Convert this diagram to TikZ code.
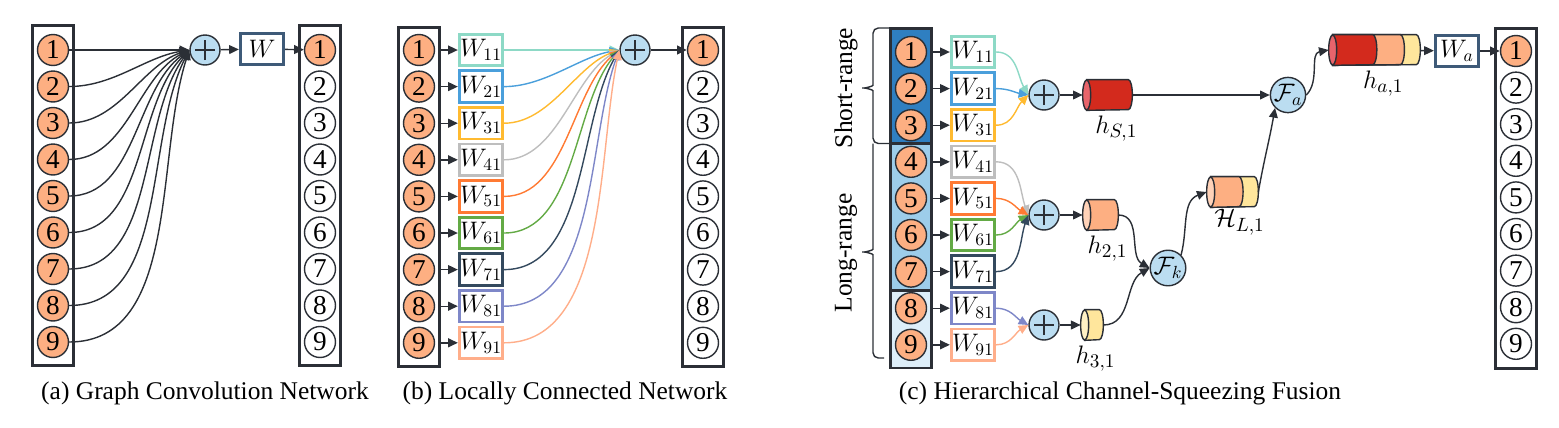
\documentclass[tikz,border=0pt]{standalone}
\usepackage{fontspec}
\setmainfont{Liberation Serif}
\usetikzlibrary{arrows.meta,positioning,calc}
\definecolor{inkdark}{HTML}{2B2F36}
\definecolor{nodeorange}{HTML}{FDAF82}
\definecolor{sumblue}{HTML}{BBDDF1}
\definecolor{wslate}{HTML}{3E5A78}
\definecolor{wteal}{HTML}{8DD9C6}
\definecolor{wblue}{HTML}{4A9FDB}
\definecolor{wamber}{HTML}{FFBA30}
\definecolor{wgray}{HTML}{BEBEBE}
\definecolor{wtangerine}{HTML}{FF7A33}
\definecolor{wgreen}{HTML}{63AA45}
\definecolor{wnavy}{HTML}{34495E}
\definecolor{wlavender}{HTML}{7E87C8}
\definecolor{wpeach}{HTML}{FFAE8A}
\definecolor{shortblue}{HTML}{2F7FC1}
\definecolor{longblue}{HTML}{9DCDEA}
\definecolor{paleblue}{HTML}{DDEEF9}
\definecolor{cylred}{HTML}{D32A1D}
\definecolor{cylredface}{HTML}{E8646B}
\definecolor{cylorange}{HTML}{FDAF82}
\definecolor{cylorangeface}{HTML}{FFD2B8}
\definecolor{cylyellow}{HTML}{FFE69C}
\definecolor{cylyellowface}{HTML}{FFF1C4}
\tikzset{
  column/.style={
    draw=inkdark,
    line width=1.7pt,
    minimum width=0.82cm,
    inner sep=0pt
  },
  unit/.style={
    circle,
    draw=inkdark,
    line width=0.8pt,
    fill=white,
    minimum size=0.62cm,
    inner sep=0pt,
    font=\fontsize{15.5}{16}\selectfont
  },
  hot/.style={unit,fill=nodeorange},
  sumnode/.style={
    circle,
    draw=inkdark,
    line width=0.8pt,
    fill=sumblue,
    minimum size=0.6cm,
    path picture={
      \draw[inkdark,line width=0.8pt]
        ([xshift=-0.2cm]path picture bounding box.center) -- ([xshift=0.2cm]path picture bounding box.center)
        ([yshift=-0.2cm]path picture bounding box.center) -- ([yshift=0.2cm]path picture bounding box.center);
    }
  },
  fusenode/.style={
    circle,
    draw=inkdark,
    line width=0.8pt,
    fill=sumblue,
    minimum size=0.56cm,
    inner sep=0pt,
    font=\fontsize{14}{14}\selectfont
  },
  wbox/.style={
    draw=#1,
    line width=1.6pt,
    fill=white,
    minimum width=0.87cm,
    minimum height=0.63cm,
    inner sep=0pt,
    font=\fontsize{14.5}{15}\selectfont
  },
  wbox/.default=wslate,
  link/.style={-{Triangle[length=5.5pt,width=5pt]},line width=0.8pt,draw=inkdark},
  cylbox/.style={minimum height=0.6cm,inner sep=0pt},
  cylline/.style={draw=inkdark,line width=0.8pt},
  bracket/.style={draw=inkdark,line width=0.8pt,rounded corners=3pt},
  caption/.style={font=\fontsize{14.5}{17}\selectfont},
  hlabel/.style={font=\fontsize{15.5}{16}\selectfont,inner sep=1pt}
}
% one coloured stretch of a cylinder, from its face to a fraction of its length
\newcommand{\cylseg}[3]{%
  \coordinate (segL) at ($(#1.north west)+(0.08cm,0)$);
  \coordinate (segR) at ($(#1.north east)+(-0.08cm,0)$);
  \filldraw[cylline,fill=#3] (segL) -- ($(segL)!#2!(segR)$)
    arc[start angle=90,end angle=-90,x radius=0.08cm,y radius=0.3cm]
    -- ($(#1.south west)+(0.08cm,0)$) -- cycle;}
\newcommand{\cylface}[2]{%
  \filldraw[cylline,fill=#2] ($(#1.west)+(0.08cm,0)$) ellipse[x radius=0.08cm,y radius=0.3cm];}

\begin{document}
\begin{tikzpicture}[x=0.02cm,y=0.02cm]
\useasboundingbox (0,0) rectangle (1559,-427);

% (a) graph convolution
\node[column,minimum height=6.82cm] (colA) at (53,-195.5) {};
\foreach \i in {1,...,9}
  \node[hot] (a\i) at (53,{-50-36.5*(\i-1)}) {\i};
\node[sumnode] (sumA) at (205,-50) {};
\node[wbox] (wA) at (262,-49) {$W$};
\node[column,minimum height=6.82cm] (outA) at (320,-195.5) {};
\node[hot] (ao1) at (320,-50) {1};
\foreach \i in {2,...,9}
  \node[unit] (ao\i) at (320,{-50-36.5*(\i-1)}) {\i};
\draw[link] (a1) -- (sumA);
\foreach \i [evaluate=\i as \ang using 180+9*(\i-1)] in {2,...,9}
  \draw[link] (a\i.east) to[out=0,in=\ang,looseness=0.9] (sumA.west);
\draw[link] (sumA) -- (wA);
\draw[link] (wA) -- (ao1);

% (b) locally connected
\node[column,minimum height=6.8cm] (colB) at (419,-197) {};
\node[sumnode] (sumB) at (635,-50) {};
\node[column,minimum height=6.8cm] (outB) at (703,-197) {};
\node[hot] (bo1) at (703,-50) {1};
\foreach \i in {2,...,9}
  \node[unit] (bo\i) at (703,{-50-36.6*(\i-1)}) {\i};
\foreach \i/\c/\ang in {1/wteal/180,2/wblue/190,3/wamber/200,4/wgray/210,5/wtangerine/220,
                        6/wgreen/230,7/wnavy/240,8/wlavender/250,9/wpeach/258}{
  \node[hot] (b\i) at (419,{-50-36.6*(\i-1)}) {\i};
  \node[wbox=\c] (bw\i) at (481,{-50-36.6*(\i-1)}) {$W_{\i1}$};
  \draw[link] (b\i.east -| colB.east) -- (bw\i);
  \draw[link,draw=\c] (bw\i.east) to[out=0,in=\ang,looseness=0.85] (sumB.west);
}
\draw[link] (sumB) -- (bo1);

% (c) hierarchical channel-squeezing fusion
\node[column,fill=shortblue,minimum height=2.31cm] (secS) at (911,-85.75) {};
\node[column,fill=longblue,minimum height=2.93cm] (secL) at (911,-216.75) {};
\node[column,fill=paleblue,minimum height=1.56cm] (secP) at (911,-329) {};
\node[sumnode] (sumS) at (1044,-95) {};
\node[sumnode] (sumL) at (1044,-215) {};
\node[sumnode] (sumP) at (1044,-325) {};
\foreach \i/\c/\ang/\s in {1/wteal/120/sumS,2/wblue/170/sumS,3/wamber/225/sumS,
                           4/wgray/110/sumL,5/wtangerine/150/sumL,6/wgreen/210/sumL,7/wnavy/250/sumL,
                           8/wlavender/150/sumP,9/wpeach/210/sumP}{
  \node[hot] (c\i) at (911,{-52-36.6*(\i-1)}) {\i};
  \node[wbox=\c] (cw\i) at (973,{-52-36.6*(\i-1)}) {$W_{\i1}$};
  \draw[link] (c\i.east -| secS.east) -- (cw\i);
  \draw[link,draw=\c] (cw\i.east) to[out=0,in=\ang] (\s.west);
}
\draw[bracket] (890,-28) -- (873,-28) -- (873,-80) to[out=-90,in=0] (859,-88)
  to[out=0,in=90] (873,-96) -- (873,-143.5) -- (890,-143.5);
\draw[bracket] (873,-143.5) -- (873,-244) to[out=-90,in=0] (859,-252)
  to[out=0,in=90] (873,-260) -- (873,-358) -- (884,-358);
\node[caption,rotate=90] (shortlab) at (846,-88) {Short-range};
\node[caption,rotate=90] (longlab) at (846,-253) {Long-range};

% squeezed features
\node[cylbox,minimum width=0.98cm] (hS) at (1107.5,-95) {};
\cylseg{hS}{1}{cylred}\cylface{hS}{cylredface}
\node[cylbox,minimum width=0.7cm] (h2) at (1100.5,-215) {};
\cylseg{h2}{1}{cylorange}\cylface{h2}{cylorangeface}
\node[cylbox,minimum width=0.44cm] (h3) at (1092,-325) {};
\cylseg{h3}{1}{cylyellow}\cylface{h3}{cylyellowface}
\node[cylbox,minimum width=1.02cm] (HL) at (1232.5,-192) {};
\cylseg{HL}{1}{cylyellow}\cylseg{HL}{0.65}{cylorange}\cylface{HL}{cylorangeface}
\node[cylbox,minimum width=1.82cm] (ha) at (1374.5,-50) {};
\cylseg{ha}{1}{cylyellow}\cylseg{ha}{0.81}{cylorange}\cylseg{ha}{0.48}{cylred}\cylface{ha}{cylredface}
\node[hlabel,below=2pt of hS,xshift=5pt] (hSlab) {$h_{S,1}$};
\node[hlabel,below=2pt of h2,xshift=4pt] (h2lab) {$h_{2,1}$};
\node[hlabel,below=2pt of h3,xshift=2pt] (h3lab) {$h_{3,1}$};
\node[hlabel,below=0pt of HL,xshift=4pt] (HLlab) {$\mathcal{H}_{L,1}$};
\node[hlabel,below=2pt of ha,xshift=5pt] (halab) {$h_{a,1}$};

\node[fusenode] (Fk) at (1168,-268) {$\mathcal{F}_k$};
\node[fusenode] (Fa) at (1288,-95) {$\mathcal{F}_a$};
\node[wbox] (wa) at (1457,-51) {$W_a$};
\node[column,minimum height=6.82cm] (outC) at (1516,-198.5) {};
\node[hot] (co1) at (1516,-51) {1};
\foreach \i in {2,...,9}
  \node[unit] (co\i) at (1516,{-51-36.6*(\i-1)}) {\i};

\draw[link] (sumS) -- (hS);
\draw[link] (sumL) -- (h2);
\draw[link] (sumP) -- (h3);
\draw[link] (h2.east) to[out=0,in=150] (Fk.west);
\draw[link] (h3.east) to[out=0,in=210] (Fk.west);
\draw[link] (Fk.north east) to[out=75,in=200] (HL.west);
\draw[link] (HL.east) to[out=80,in=-100] (Fa.south west);
\draw[link] (hS) -- (Fa);
\draw[link] (Fa.east) to[out=45,in=190] (ha.west);
\draw[link] (ha) -- (wa);
\draw[link] (wa) -- (co1);

% captions
\node[caption] (capA) at (205,-393) {(a) Graph Convolution Network};
\node[caption] (capB) at (565,-393) {(b) Locally Connected Network};
\node[caption] (capC) at (1120,-393) {(c) Hierarchical Channel-Squeezing Fusion};
\end{tikzpicture}
\end{document}
